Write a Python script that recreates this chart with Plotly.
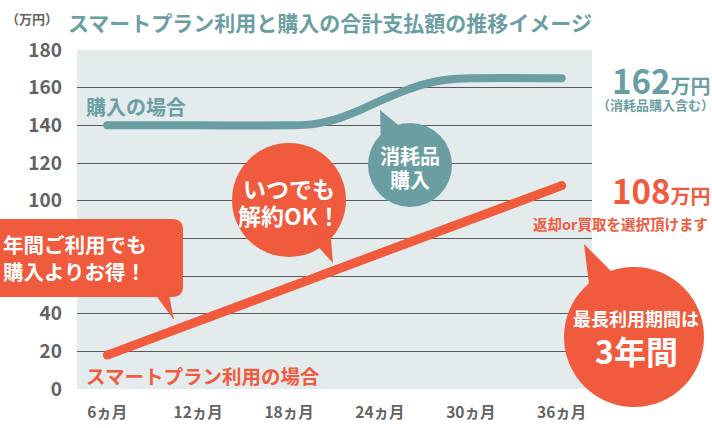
import plotly.graph_objects as go

# ---------------- data ----------------
tick_months = [6, 12, 18, 24, 30, 36]
tick_labels = ["6ヵ月", "12ヵ月", "18ヵ月", "24ヵ月", "30ヵ月", "36ヵ月"]
y_ticks = [0, 20, 40, 60, 80, 100, 120, 140, 160, 180]

rent_months = [6, 12, 18, 24, 30, 36]
rent_cost = [18, 36, 54, 72, 90, 108]

buy_months = [6, 12, 18, 19.5, 21, 22.5, 24, 25.5, 27, 28.5, 30, 36]
buy_cost = [140, 140, 140, 140.5, 143, 147.5, 153, 158, 162, 164.3, 165, 165]

# ---------------- style ----------------
TEAL = "#6b9ea3"
RED = "#f05a3d"
GRAY = "#636363"
BG = "#e4ebed"
FONT = "Noto Sans CJK JP"

W, H = 712, 428
L, R, T, B = 77, 120, 50, 39
PW, PH = W - L - R, H - T - B


def X(p):
    return (p - L) / PW


def Y(p):
    return (H - B - p) / PH


fig = go.Figure()

fig.add_trace(go.Scatter(
    x=buy_months, y=buy_cost, mode="lines",
    line=dict(color=TEAL, width=8, shape="spline", smoothing=0.8),
    hoverinfo="skip", showlegend=False))
fig.add_trace(go.Scatter(
    x=[buy_months[0], buy_months[-1]], y=[buy_cost[0], buy_cost[-1]], mode="markers",
    marker=dict(color=TEAL, size=8, line=dict(width=0)),
    hoverinfo="skip", showlegend=False))

fig.add_trace(go.Scatter(
    x=rent_months, y=rent_cost, mode="lines",
    line=dict(color=RED, width=9),
    hoverinfo="skip", showlegend=False))
fig.add_trace(go.Scatter(
    x=[rent_months[0], rent_months[-1]], y=[rent_cost[0], rent_cost[-1]], mode="markers",
    marker=dict(color=RED, size=9, line=dict(width=0)),
    hoverinfo="skip", showlegend=False))

shapes = []


def circle(cx, cy, r, color):
    shapes.append(dict(type="circle", xref="paper", yref="paper",
                       x0=X(cx - r), x1=X(cx + r), y0=Y(cy + r), y1=Y(cy - r),
                       fillcolor=color, line=dict(width=0), layer="above"))


def poly(pts, color):
    d = "M " + " L ".join(f"{X(a):.5f},{Y(b):.5f}" for a, b in pts) + " Z"
    shapes.append(dict(type="path", xref="paper", yref="paper", path=d,
                       fillcolor=color, line=dict(width=0), layer="above"))


def rrect(x0, y0, x1, y1, rad, color):
    p = [
        f"M {X(x0 + rad):.5f},{Y(y0):.5f}",
        f"L {X(x1 - rad):.5f},{Y(y0):.5f}",
        f"Q {X(x1):.5f},{Y(y0):.5f} {X(x1):.5f},{Y(y0 + rad):.5f}",
        f"L {X(x1):.5f},{Y(y1 - rad):.5f}",
        f"Q {X(x1):.5f},{Y(y1):.5f} {X(x1 - rad):.5f},{Y(y1):.5f}",
        f"L {X(x0 + rad):.5f},{Y(y1):.5f}",
        f"Q {X(x0):.5f},{Y(y1):.5f} {X(x0):.5f},{Y(y1 - rad):.5f}",
        f"L {X(x0):.5f},{Y(y0 + rad):.5f}",
        f"Q {X(x0):.5f},{Y(y0):.5f} {X(x0 + rad):.5f},{Y(y0):.5f} Z",
    ]
    shapes.append(dict(type="path", xref="paper", yref="paper", path=" ".join(p),
                       fillcolor=color, line=dict(width=0), layer="above"))


# left box callout (runs off the left edge like the reference)
rrect(-20, 219, 183, 297, 11, RED)
poly([(152, 290), (168, 290), (174, 320)], RED)
# いつでも circle
circle(289, 200, 57, RED)
poly([(312, 240), (330, 228), (333, 263)], RED)
# 消耗品 circle
circle(410, 165, 42, TEAL)
poly([(380, 110), (381, 145), (402, 128)], TEAL)
# 3年間 circle
circle(634, 337, 70, RED)
poly([(584, 244), (590, 292), (612, 272)], RED)

fig.update_layout(shapes=shapes)

ann = []


def text(x, y, s, size, color, xanchor="center", weight=700):
    ann.append(dict(x=X(x), y=Y(y), xref="paper", yref="paper", text=s,
                    showarrow=False, xanchor=xanchor, yanchor="middle",
                    font=dict(family=FONT, size=size, color=color, weight=weight)))


text(4, 19, "（万円）", 13, GRAY, "left")
text(66, 22, "スマートプラン利用と購入の合計支払額の推移イメージ", 21, TEAL, "left")
text(84, 106, "購入の場合", 20, TEAL, "left")
text(84, 375, "スマートプラン利用の場合", 19.5, RED, "left")
text(1, 244, "年間ご利用でも", 20.5, "white", "left")
text(1, 271, "購入よりお得！", 20.5, "white", "left")
text(289, 188, "いつでも", 23, "white")
text(289, 215, "解約OK！", 23, "white")
text(410, 155, "消耗品", 20, "white")
text(410, 179, "購入", 20, "white")
text(636, 318, "最長利用期間は", 18, "white")
text(636, 350, "3年間", 32, "white")
text(661, 80, "162<span style='font-size:20px'>万円</span>", 33, TEAL)
text(655, 105, "（消耗品購入含む）", 13, TEAL)
text(661, 190, "108<span style='font-size:20px'>万円</span>", 33, RED)
text(620, 223, "返却or買取を選択頂けます", 14.5, RED)

fig.update_layout(annotations=ann)

fig.update_layout(
    width=W, height=H,
    margin=dict(l=L, r=R, t=T, b=B, pad=0, autoexpand=False),
    paper_bgcolor="white", plot_bgcolor=BG,
    font=dict(family=FONT, color=GRAY),
    xaxis=dict(range=[4, 38], tickvals=tick_months, ticktext=tick_labels,
               showgrid=False, zeroline=False, showline=False, ticks="",
               ticklabelstandoff=12, automargin=False,
               tickfont=dict(family=FONT, size=15.5, color=GRAY, weight=700)),
    yaxis=dict(range=[0, 180], tickvals=y_ticks, showgrid=True,
               gridcolor="#5a5a5a", gridwidth=1.2, zeroline=False,
               showline=False, ticks="", ticklabelstandoff=14, automargin=False,
               tickfont=dict(family=FONT, size=19, color=GRAY, weight=700)),
)

post = "document.body.style.margin='0';"
fig.write_html("out.html", config={"displayModeBar": False}, post_script=post)
